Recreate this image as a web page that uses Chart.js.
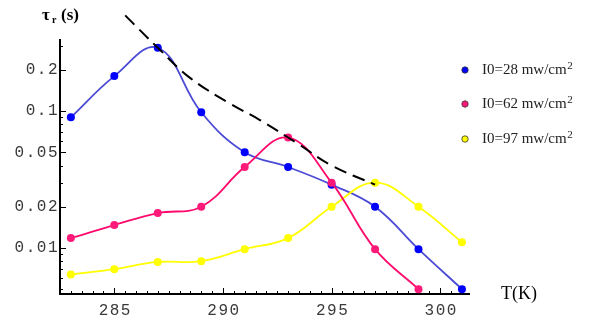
<!DOCTYPE html>
<html>
<head>
<meta charset="utf-8">
<script src="https://cdn.jsdelivr.net/npm/chart.js@4"></script>
<style>
  html, body { margin: 0; padding: 0; background: #fff; }
  #wrap { width: 604px; height: 320px; }
</style>
</head>
<body>
<div id="wrap"><canvas id="chart"></canvas></div>
<script>
// Data (T in K, tau_r in s)
const temps = [283, 285, 287, 289, 291, 293, 295, 297, 299, 301];
const tau28 = [0.090, 0.18, 0.29, 0.098, 0.050, 0.039, 0.029, 0.020, 0.0098, 0.0050];
const tau62 = [0.0118, 0.0147, 0.018, 0.020, 0.039, 0.064, 0.030, 0.0098, 0.0050];
const tau97 = [0.0064, 0.0070, 0.0079, 0.0080, 0.0098, 0.0118, 0.020, 0.030, 0.020, 0.011];
const envT = [285.5, 287, 288.5, 290.3, 291.7, 293.5, 295, 297];
const envTau = [0.50, 0.29, 0.174, 0.114, 0.086, 0.057, 0.040, 0.029];

const seriesLabels = ['I0=28 mw/cm', 'I0=62 mw/cm', 'I0=97 mw/cm'];
const xTicks = [285, 290, 295, 300];
const yTicks = [0.01, 0.02, 0.05, 0.1, 0.2];
const yMinorTicks = [0.005, 0.006, 0.007, 0.008, 0.009, 0.03, 0.04, 0.06, 0.07, 0.08, 0.09, 0.3];

const lineColors = ['#4a4ad6', '#ff0a6c', '#ffff00'];
const pointColors = ['#0000ff', '#ff1a7a', '#ffff00'];
const drawOrder = [3, 1, 2];

const toPoints = (xs, ys) => ys.map((v, i) => ({ x: xs[i], y: v }));

function seriesDataset(i, values) {
    return {
        label: seriesLabels[i] + '²',
        data: toPoints(temps, values),
        borderColor: lineColors[i],
        backgroundColor: pointColors[i],
        pointBackgroundColor: pointColors[i],
        pointBorderWidth: 0,
        pointRadius: 4,
        borderWidth: 1.8,
        tension: 0.4,
        clip: false,
        order: drawOrder[i]
    };
}

// Axis lines, inward ticks, labels and legend drawn by hand
const axesPlugin = {
    id: 'axes',
    beforeDatasetsDraw(chart) {
        const { ctx, chartArea: a, scales: { x, y } } = chart;
        ctx.save();
        ctx.strokeStyle = '#000';
        ctx.lineWidth = 2;
        ctx.beginPath();
        ctx.moveTo(a.left, a.top);
        ctx.lineTo(a.left, a.bottom);
        ctx.lineTo(a.right, a.bottom);
        ctx.stroke();

        ctx.lineWidth = 1;
        ctx.beginPath();
        for (let t = 283; t <= 301; t += 0.5) {
            const px = Math.round(x.getPixelForValue(t)) + 0.5;
            const len = (t % 5 === 0) ? 6 : 3;
            ctx.moveTo(px, a.bottom);
            ctx.lineTo(px, a.bottom - len);
        }
        yTicks.forEach(v => {
            const py = Math.round(y.getPixelForValue(v)) + 0.5;
            ctx.moveTo(a.left, py);
            ctx.lineTo(a.left + 6, py);
        });
        yMinorTicks.forEach(v => {
            const py = Math.round(y.getPixelForValue(v)) + 0.5;
            ctx.moveTo(a.left, py);
            ctx.lineTo(a.left + 3, py);
        });
        ctx.stroke();

        ctx.fillStyle = '#3a3a3a';
        ctx.font = '16px "Liberation Mono"';
        ctx.letterSpacing = '1.5px';
        ctx.textBaseline = 'middle';
        ctx.textAlign = 'center';
        xTicks.forEach(t => ctx.fillText(String(t), x.getPixelForValue(t) + 1, 311));
        ctx.textAlign = 'right';
        yTicks.forEach(v => ctx.fillText(String(v), 59, y.getPixelForValue(v)));
        ctx.letterSpacing = '0px';
        ctx.restore();
    },
    afterDraw(chart) {
        const { ctx } = chart;
        ctx.save();
        ctx.fillStyle = '#000';
        ctx.textBaseline = 'alphabetic';
        ctx.textAlign = 'left';
        // y title: tau_r (s)
        ctx.font = 'bold 17px "Liberation Serif"';
        ctx.fillText('τ', 42, 20);
        ctx.font = 'bold 10px "Liberation Serif"';
        ctx.fillText('r', 52, 23);
        ctx.font = 'bold 17px "Liberation Serif"';
        ctx.fillText('(s)', 61, 20);
        // x title
        ctx.font = '18px "Liberation Serif"';
        ctx.fillText('T(K)', 501, 299);

        // legend
        const rows = [69, 103, 138];
        rows.forEach((ry, i) => {
            ctx.beginPath();
            ctx.arc(465, ry + 1, 3.2, 0, Math.PI * 2);
            ctx.fillStyle = pointColors[i];
            ctx.fill();
            ctx.strokeStyle = '#333';
            ctx.lineWidth = 0.8;
            ctx.stroke();
            ctx.fillStyle = '#222';
            ctx.font = '15px "Liberation Serif"';
            ctx.fillText(seriesLabels[i], 482, ry + 5);
            const w = ctx.measureText(seriesLabels[i]).width;
            ctx.font = '11px "Liberation Serif"';
            ctx.fillText('2', 482 + w + 0.5, ry - 0.5);
        });
        ctx.restore();
    }
};

new Chart(document.getElementById('chart'), {
    type: 'line',
    data: {
        datasets: [
            {
                label: 'envelope',
                data: toPoints(envT, envTau),
                borderColor: '#000',
                borderWidth: 2,
                borderDash: [13, 7],
                pointRadius: 0,
                tension: 0.4,
                fill: false,
                clip: false,
                order: 0
            },
            seriesDataset(0, tau28),
            seriesDataset(1, tau62),
            seriesDataset(2, tau97)
        ]
    },
    options: {
        responsive: true,
        maintainAspectRatio: false,
        animation: false,
        layout: { padding: { left: 60, right: 134, top: 39, bottom: 26 } },
        plugins: {
            legend: { display: false },
            tooltip: { enabled: false }
        },
        scales: {
            x: { type: 'linear', min: 282.5, max: 301.37, display: false },
            y: { type: 'logarithmic', min: 0.00461, max: 0.336, display: false }
        }
    },
    plugins: [axesPlugin]
});
</script>
</body>
</html>
